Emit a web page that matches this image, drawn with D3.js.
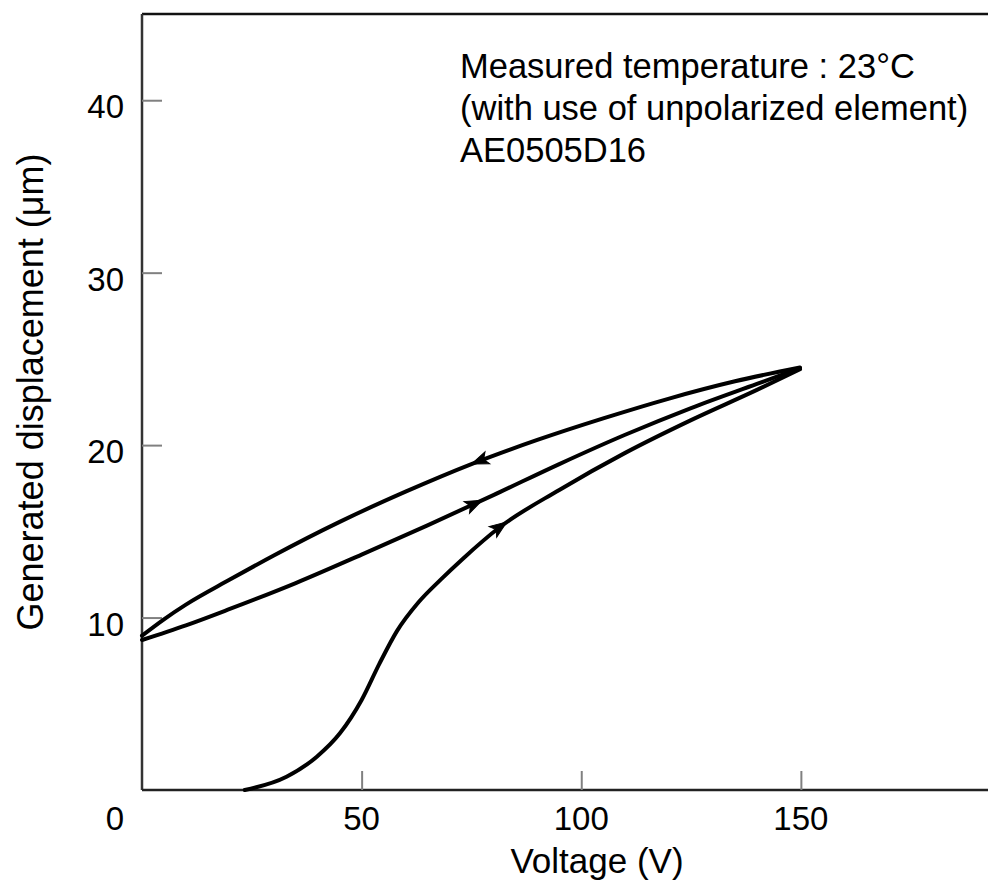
<!DOCTYPE html>
<html>
<head>
<meta charset="utf-8">
<script src="https://cdn.jsdelivr.net/npm/d3@7"></script>
<style>
  html, body { margin: 0; padding: 0; background: #fff; }
  svg { display: block; font-family: "Liberation Sans", Arial, sans-serif; }
</style>
</head>
<body>
<svg id="chart" width="988" height="883"></svg>
<script>
// ---- data (voltage in V, displacement in µm) ----
const voltageTicks = [50, 100, 150];
const displacementTicks = [10, 20, 30, 40];

// first rise of the unpolarized element (voltage increasing)
const virginVoltage = [23.4, 32.9, 39.8, 45.1, 50.0, 54.0, 58.0, 63.0, 68.0, 73.0, 81.5, 95.0, 110.0, 125.0, 140.0, 149.8];
const virginDisp    = [0.0, 0.77, 1.93, 3.30, 5.22, 7.3, 9.2, 10.9, 12.2, 13.4, 15.25, 17.4, 19.55, 21.45, 23.2, 24.4];

// ascending branch of the hysteresis loop (voltage increasing)
const ascVoltage = [0, 10, 20, 35, 50, 65, 80, 95, 110, 125, 140, 149.8];
const ascDisp    = [8.7, 9.55, 10.5, 12.0, 13.65, 15.35, 17.1, 18.9, 20.6, 22.15, 23.55, 24.46];

// descending branch of the hysteresis loop (listed by voltage, traversed 150 -> 0)
const descVoltage = [0, 5, 10, 20, 30, 45, 60, 75, 90, 105, 120, 135, 149.8];
const descDisp    = [8.95, 9.9, 10.75, 12.2, 13.6, 15.55, 17.3, 18.9, 20.3, 21.55, 22.7, 23.7, 24.5];

// arrow positions (voltage) on each curve
const arrowVoltage = { virgin: 83.0, ascending: 77.5, descending: 75.0 };

const annotationLines = [
  "Measured temperature : 23°C",
  "(with use of unpolarized element)",
  "AE0505D16"
];
const xTitle = "Voltage (V)";
const yTitle = "Generated displacement (μm)";

// ---- layout ----
const plot = { left: 142, right: 988, top: 14, bottom: 790 };

const x = d3.scaleLinear().domain([0, 192.6]).range([plot.left, plot.right]);
const y = d3.scaleLinear().domain([0, 45]).range([plot.bottom, plot.top]);

const svg = d3.select("#chart");

// frame
svg.append("line").attr("x1", plot.left).attr("x2", plot.right).attr("y1", plot.top).attr("y2", plot.top)
  .attr("stroke", "#111").attr("stroke-width", 2.5);
svg.append("line").attr("x1", plot.left).attr("x2", plot.left).attr("y1", plot.top).attr("y2", plot.bottom)
  .attr("stroke", "#333").attr("stroke-width", 2.5);
svg.append("line").attr("x1", plot.left).attr("x2", plot.right).attr("y1", plot.bottom).attr("y2", plot.bottom)
  .attr("stroke", "#222").attr("stroke-width", 2.5);

// axes (inward ticks, labels drawn separately)
const xAxis = d3.axisBottom(x).tickValues(voltageTicks).tickSize(-19).tickFormat("");
const gx = svg.append("g").attr("transform", `translate(0,${plot.bottom})`).call(xAxis);
gx.select(".domain").remove();
gx.selectAll(".tick line").attr("stroke", "#808080").attr("stroke-width", 2);

const yAxis = d3.axisLeft(y).tickValues(displacementTicks).tickSize(-20).tickFormat("");
const gy = svg.append("g").attr("transform", `translate(${plot.left},0)`).call(yAxis);
gy.select(".domain").remove();
gy.selectAll(".tick line").attr("stroke", "#808080").attr("stroke-width", 2);

// tick labels
const tickFont = 33;
svg.append("g").selectAll("text").data(voltageTicks).join("text")
  .attr("x", d => x(d)).attr("y", 830)
  .attr("text-anchor", "middle").attr("font-size", tickFont).attr("fill", "#000")
  .text(d => d);
svg.append("text").attr("x", x(0) - 27).attr("y", 830).attr("text-anchor", "middle")
  .attr("font-size", tickFont).attr("fill", "#000").text("0");
svg.append("g").selectAll("text").data(displacementTicks).join("text")
  .attr("x", 124).attr("y", d => y(d) + 18)
  .attr("text-anchor", "end").attr("font-size", tickFont).attr("fill", "#000")
  .text(d => d);

// axis titles
svg.append("text").attr("x", 597).attr("y", 873).attr("text-anchor", "middle")
  .attr("font-size", 35).attr("fill", "#000").text(xTitle);
svg.append("text").attr("transform", "translate(43,392) rotate(-90)").attr("text-anchor", "middle")
  .attr("font-size", 36).attr("fill", "#000").text(yTitle);

// annotation
svg.append("g").selectAll("text").data(annotationLines).join("text")
  .attr("x", 460).attr("y", (d, i) => 78 + i * 42)
  .attr("font-size", 34.5).attr("fill", "#000").text(d => d);

// curves
const line = d3.line().x(d => x(d[0])).y(d => y(d[1])).curve(d3.curveMonotoneX);
const series = [
  { key: "virgin", pts: d3.zip(virginVoltage, virginDisp), dir: 1 },
  { key: "ascending", pts: d3.zip(ascVoltage, ascDisp), dir: 1 },
  { key: "descending", pts: d3.zip(descVoltage, descDisp), dir: -1 }
];

series.forEach(s => {
  const path = svg.append("path")
    .attr("d", line(s.pts))
    .attr("fill", "none").attr("stroke", "#000")
    .attr("stroke-width", 4).attr("stroke-linejoin", "round").attr("stroke-linecap", "round");

  // arrowhead at the given voltage, oriented along the direction of travel
  const node = path.node();
  const total = node.getTotalLength();
  const targetX = x(arrowVoltage[s.key]);
  let best = 0, bestDist = Infinity;
  for (let L = 0; L <= total; L += 0.5) {
    const p = node.getPointAtLength(L);
    const dd = Math.abs(p.x - targetX);
    if (dd < bestDist) { bestDist = dd; best = L; }
  }
  const p0 = node.getPointAtLength(Math.max(0, best - 2));
  const p1 = node.getPointAtLength(Math.min(total, best + 2));
  const tip = node.getPointAtLength(best);
  let ang = Math.atan2(p1.y - p0.y, p1.x - p0.x) * 180 / Math.PI;
  if (s.dir < 0) ang += 180;
  svg.append("path")
    .attr("d", "M0,0 L-17,-6.5 L-13,0 L-17,6.5 Z")
    .attr("transform", `translate(${tip.x},${tip.y}) rotate(${ang})`)
    .attr("fill", "#000").attr("stroke", "#000").attr("stroke-width", 1);
});
</script>
</body>
</html>
